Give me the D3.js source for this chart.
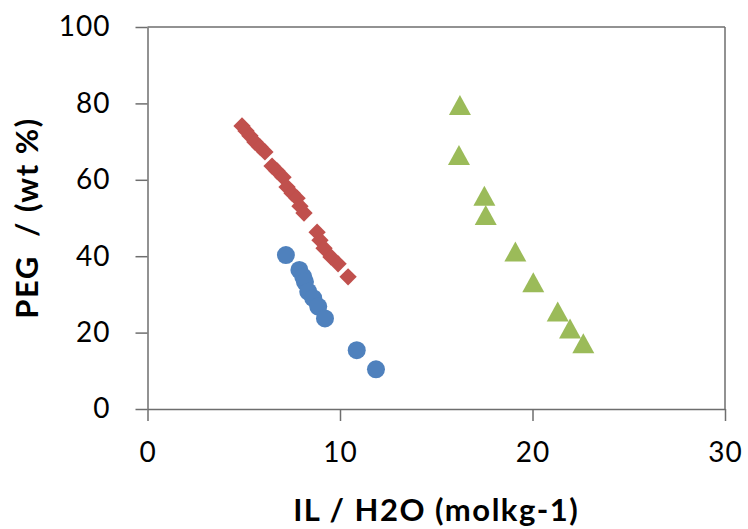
<!DOCTYPE html>
<html>
<head>
<meta charset="utf-8">
<script src="https://cdn.jsdelivr.net/npm/d3@7"></script>
<style>
    body { margin: 0; background: #fff; }
    text { font-family: Lato, "Open Sans", sans-serif; fill: #000; }
    .axis path, .axis line { stroke: #6e6e6e; stroke-width: 1.5; }
    .axis text { font-size: 28px; letter-spacing: 1px; }
    .title { font-size: 31px; font-weight: bold; letter-spacing: 1.5px; }
</style>
</head>
<body>
<svg id="plot"></svg>
<script>
    var SizeX = 748, SizeY = 529;
    var Margin = { left: 147.5, right: 23, top: 27, bottom: 120 };

    var xTicks = [0, 10, 20, 30];
    var yTicks = [0, 20, 40, 60, 80, 100];

    // red diamonds
    var diamondX = [4.91, 5.12, 5.32, 5.58, 5.84, 6.10, 6.47, 6.73, 7.04, 7.25, 7.51, 7.77, 7.92, 8.13, 8.81, 8.96, 9.17, 9.53, 9.90, 10.42];
    var diamondY = [74.1, 72.8, 71.5, 69.9, 68.6, 67.3, 63.6, 62.3, 60.7, 58.1, 56.5, 55.2, 53.1, 51.3, 46.3, 44.2, 42.1, 39.8, 38.0, 34.6];

    // blue circles
    var circleX = [7.19, 7.89, 8.09, 8.18, 8.35, 8.61, 8.87, 9.22, 10.87, 11.87];
    var circleY = [40.3, 36.4, 34.6, 33.3, 30.7, 29.0, 26.8, 23.7, 15.4, 10.4];

    // green triangles
    var triX = [16.23, 16.18, 17.50, 17.57, 19.11, 20.04, 21.31, 21.95, 22.64];
    var triY = [79.6, 66.5, 55.8, 50.8, 41.2, 33.2, 25.5, 21.1, 17.2];

    function zip(xs, ys) { return xs.map((x, i) => ({ x: x, y: ys[i] })); }

    var svg = d3.select("#plot").attr("width", SizeX).attr("height", SizeY);

    var x = d3.scaleLinear().domain([0, 30]).range([Margin.left, SizeX - Margin.right]);
    var y = d3.scaleLinear().domain([0, 100]).range([SizeY - Margin.bottom, Margin.top]);

    // frame: top and right border
    svg.append("line")
        .attr("x1", x(0)).attr("x2", x(30)).attr("y1", y(100)).attr("y2", y(100))
        .attr("stroke", "#6e6e6e").attr("stroke-width", 1.5);
    svg.append("line")
        .attr("x1", x(30)).attr("x2", x(30)).attr("y1", y(100)).attr("y2", y(0))
        .attr("stroke", "#6e6e6e").attr("stroke-width", 1.5);

    var xAxis = d3.axisBottom(x).tickValues(xTicks).tickSize(12).tickPadding(21).tickSizeOuter(0);
    var yAxis = d3.axisLeft(y).tickValues(yTicks).tickSize(12).tickPadding(25).tickSizeOuter(0);

    svg.append("g").attr("class", "axis")
        .attr("transform", "translate(0," + y(0) + ")").call(xAxis);
    svg.append("g").attr("class", "axis")
        .attr("transform", "translate(" + x(0) + ",0)").call(yAxis);

    svg.selectAll(".axis .tick text").attr("fill", "#000");

    var plot = svg.append("g");

    plot.selectAll(".dia").data(zip(diamondX, diamondY)).enter()
        .append("path").attr("class", "dia")
        .attr("d", d3.symbol().type(d3.symbolSquare).size(150))
        .attr("transform", d => "translate(" + x(d.x) + "," + y(d.y) + ") rotate(45)")
        .attr("fill", "#C0504D");

    plot.selectAll(".dot").data(zip(circleX, circleY)).enter()
        .append("circle").attr("class", "dot")
        .attr("cx", d => x(d.x)).attr("cy", d => y(d.y)).attr("r", 9)
        .attr("fill", "#4F81BD");

    plot.selectAll(".tri").data(zip(triX, triY)).enter()
        .append("path").attr("class", "tri")
        .attr("d", "M0,-10L11,10L-11,10Z")
        .attr("transform", d => "translate(" + x(d.x) + "," + y(d.y) + ")")
        .attr("fill", "#9BBB59");

    svg.append("text").attr("class", "title")
        .attr("x", (x(0) + x(30)) / 2).attr("y", 521)
        .attr("text-anchor", "middle")
        .text("IL / H2O (molkg-1)");

    svg.append("text").attr("class", "title")
        .attr("transform", "translate(38," + (y(0) + y(100)) / 2 + ") rotate(-90)")
        .attr("text-anchor", "middle")
        .style("white-space", "pre")
        .text("PEG  / (wt %)");
</script>
</body>
</html>
